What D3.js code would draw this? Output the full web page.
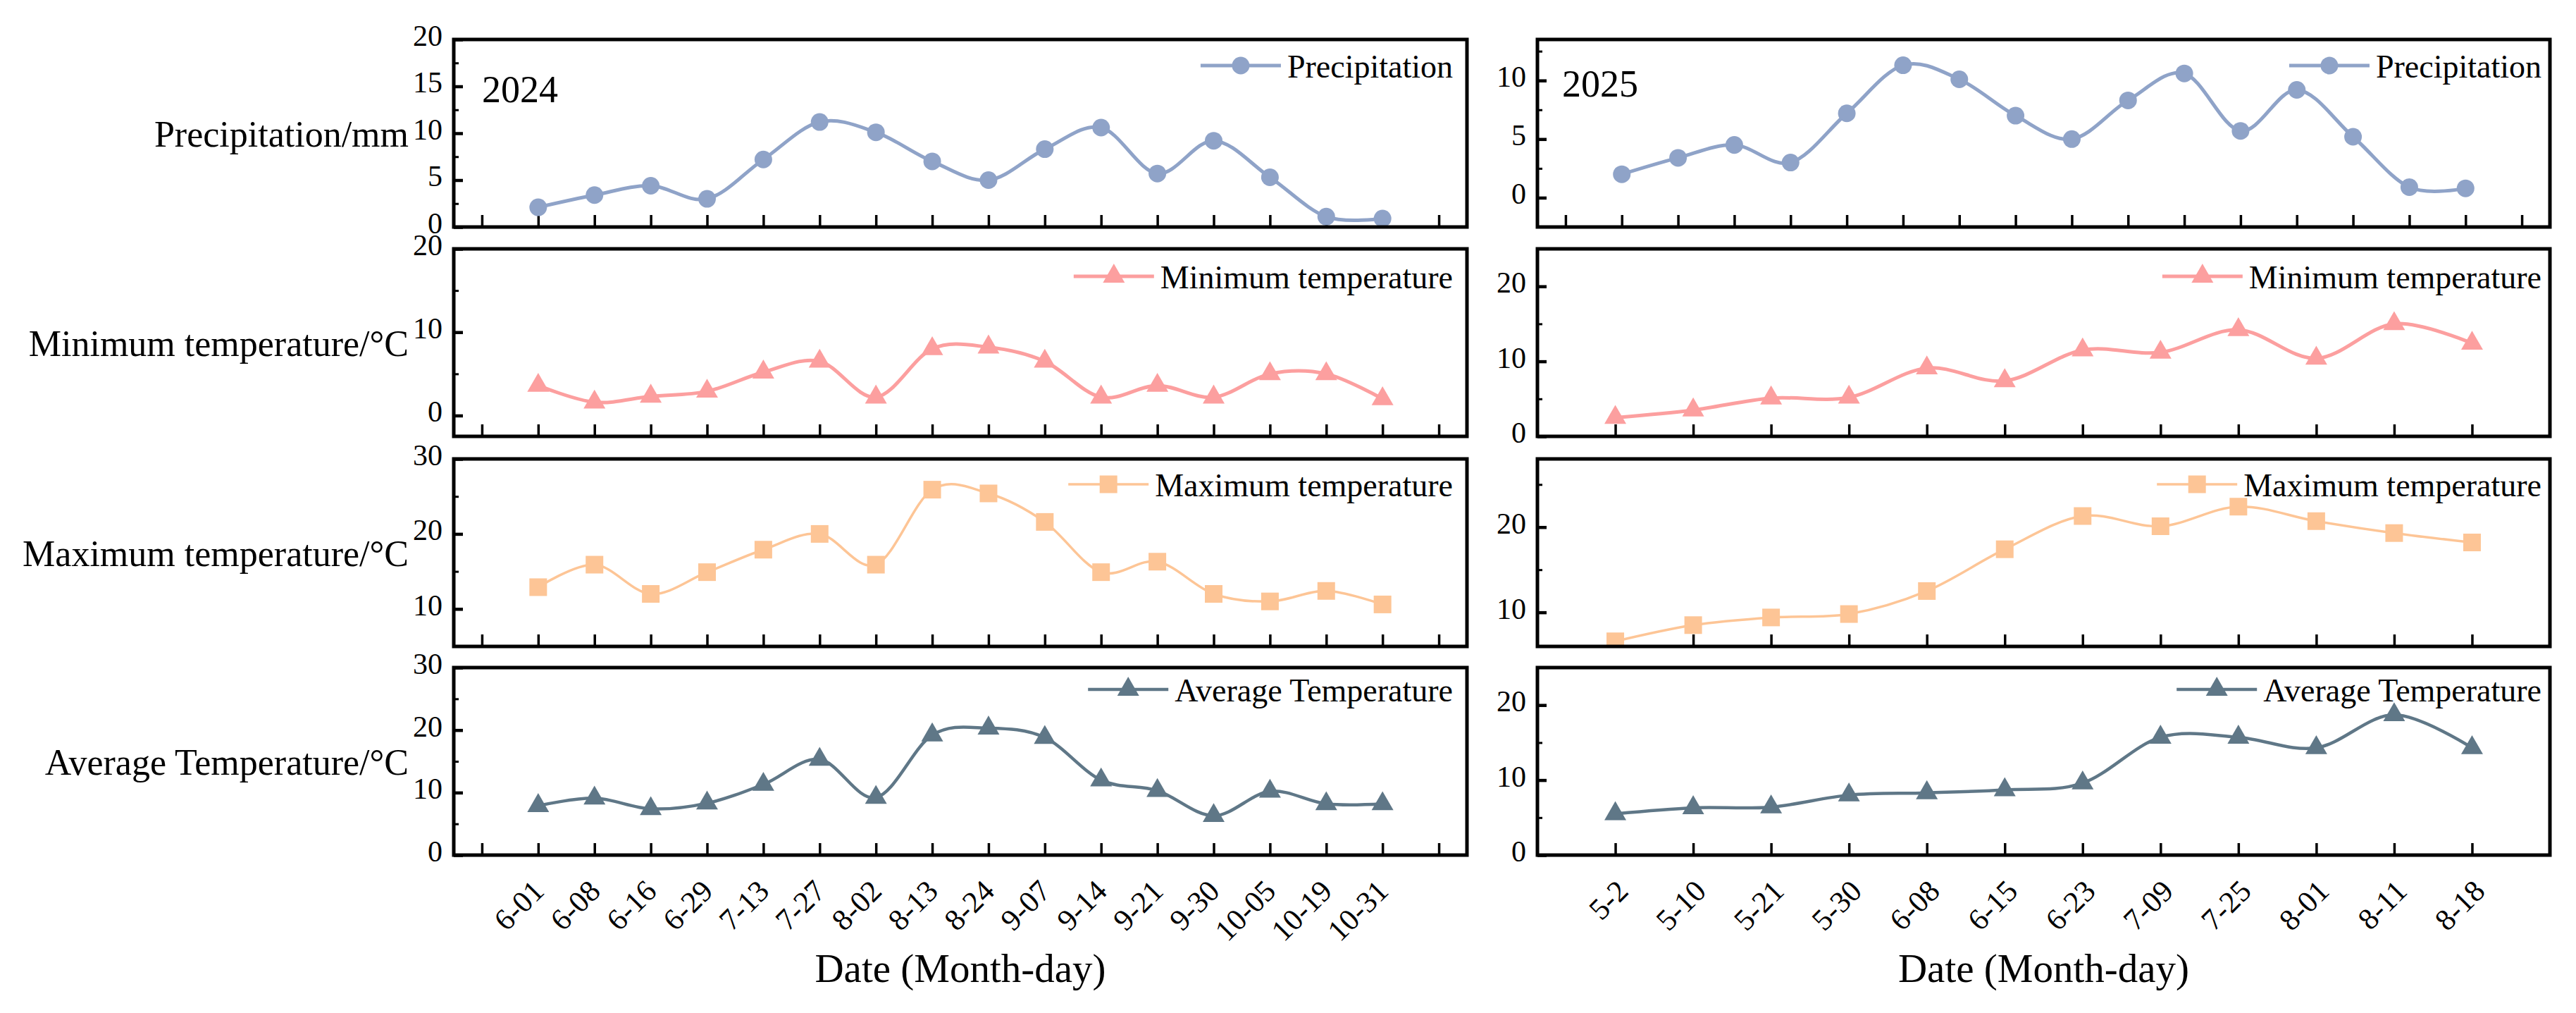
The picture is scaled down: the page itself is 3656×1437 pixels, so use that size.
<!DOCTYPE html>
<html>
<head>
<meta charset="utf-8">
<script src="https://cdn.jsdelivr.net/npm/d3@7"></script>
<style>
  body { margin: 0; background: #fff; }
  text { font-family: "Liberation Serif", "DejaVu Serif", serif; fill: #000; }
</style>
</head>
<body>
<svg id="chart"></svg>
<script>
// categories
var dates2024 = ['6-01', '6-08', '6-16', '6-29', '7-13', '7-27', '8-02', '8-13',
                 '8-24', '9-07', '9-14', '9-21', '9-30', '10-05', '10-19', '10-31'];
var dates2025 = ['5-2', '5-10', '5-21', '5-30', '6-08', '6-15', '6-23', '7-09',
                 '7-25', '8-01', '8-11', '8-18'];

// series values
var precip2024 = [2.1, 3.4, 4.4, 3.0, 7.2, 11.2, 10.1, 7.0, 5.0, 8.3, 10.6, 5.7, 9.2, 5.3, 1.1, 0.9];
var precip2025 = [2.0, 3.4, 4.5, 3.0, 7.2, 11.3, 10.1, 7.0, 5.0, 8.3, 10.6, 5.7, 9.2, 5.2, 0.9, 0.8];
var minT2024 = [3.6, 1.6, 2.3, 2.9, 5.2, 6.5, 2.2, 8.0, 8.2, 6.5, 2.2, 3.6, 2.2, 5.0, 5.0, 2.0];
var minT2025 = [2.5, 3.5, 5.1, 5.2, 9.1, 7.4, 11.5, 11.2, 14.2, 10.4, 15.0, 12.4];
var maxT2024 = [12.9, 15.9, 12.0, 14.9, 17.9, 20.0, 15.9, 25.9, 25.4, 21.6, 14.9, 16.3, 12.0, 11.0, 12.4, 10.6];
var maxT2025 = [6.6, 8.5, 9.4, 9.8, 12.5, 17.4, 21.3, 20.1, 22.4, 20.7, 19.3, 18.2];
var avgT2024 = [7.9, 9.1, 7.4, 8.3, 11.3, 15.3, 9.2, 19.2, 20.3, 18.8, 12.0, 10.3, 6.3, 10.2, 8.2, 8.2];
var avgT2025 = [5.5, 6.3, 6.4, 8.0, 8.3, 8.7, 9.6, 15.7, 15.7, 14.3, 18.7, 14.3];

// y tick labels (major) per panel
var precipTicks2024 = [0, 5, 10, 15, 20];
var precipTicks2025 = [0, 5, 10];
var minTicks2024 = [0, 10, 20];
var minTicks2025 = [0, 10, 20];
var maxTicks2024 = [10, 20, 30];
var maxTicks2025 = [10, 20];
var avgTicks2024 = [0, 10, 20, 30];
var avgTicks2025 = [0, 10, 20];

var W = 3656, H = 1437;
var svg = d3.select('#chart').attr('width', W).attr('height', H);

var cols = [
  { x0: 644, x1: 2082, year: '2024', yearX: 684, yearY: 145, labels: dates2024, labelDx: 0, legPad: 20 },
  { x0: 2182, x1: 3619, year: '2025', yearX: 2217, yearY: 137, labels: dates2025, labelDx: 10, legPad: 12 }
];
var rows = [
  { y0: 56, y1: 322 }, { y0: 353, y1: 619 }, { y0: 651, y1: 917 }, { y0: 947, y1: 1213 }
];

var styles = {
  precip: { name: 'Precipitation', title: 'Precipitation/mm', shape: d3.symbolCircle, size: 491, color: '#8fa3c8', lw: 5, legY: 37 },
  minT: { name: 'Minimum temperature', title: 'Minimum temperature/°C', shape: d3.symbolTriangle, size: 416, color: '#fc9f9f', lw: 5, legY: 39 },
  maxT: { name: 'Maximum temperature', title: 'Maximum temperature/°C', shape: d3.symbolSquare, size: 625, color: '#fdc596', lw: 3.5, legY: 36 },
  avgT: { name: 'Average Temperature', title: 'Average Temperature/°C', shape: d3.symbolTriangle, size: 416, color: '#5f7787', lw: 4.5, legY: 31 }
};

var panels = [
  { col: 0, row: 0, kind: 'precip', values: precip2024, domain: [0, 20], major: precipTicks2024, step: 2.5 },
  { col: 0, row: 1, kind: 'minT', values: minT2024, domain: [-2.5, 20], major: minTicks2024, step: 5 },
  { col: 0, row: 2, kind: 'maxT', values: maxT2024, domain: [5, 30], major: maxTicks2024, step: 5 },
  { col: 0, row: 3, kind: 'avgT', values: avgT2024, domain: [0, 30], major: avgTicks2024, step: 5 },
  { col: 1, row: 0, kind: 'precip', values: precip2025, domain: [-2.5, 13.5], major: precipTicks2025, step: 2.5 },
  { col: 1, row: 1, kind: 'minT', values: minT2025, domain: [0, 25], major: minTicks2025, step: 5 },
  { col: 1, row: 2, kind: 'maxT', values: maxT2025, domain: [6, 28], major: maxTicks2025, step: 5 },
  { col: 1, row: 3, kind: 'avgT', values: avgT2025, domain: [0, 25], major: avgTicks2025, step: 5 }
];

panels.forEach(function (p, pi) {
  var c = cols[p.col], r = rows[p.row], st = styles[p.kind];
  var n = p.values.length;
  // 16-point panels carry a padded tick at each end, 12-point ones do not
  var x = d3.scaleLinear()
    .domain(n > 12 ? [-1.5, n + 0.5] : [-1, n])
    .range([c.x0, c.x1]);
  var xTicks = n > 12 ? d3.range(-1, n + 1) : d3.range(0, n);
  var y = d3.scaleLinear().domain(p.domain).range([r.y1, r.y0]);

  var g = svg.append('g');

  // minor y ticks (every step, not on majors)
  var minor = d3.range(Math.ceil(p.domain[0] / p.step) * p.step, p.domain[1] + 0.001, p.step)
    .filter(function (v) { return p.major.indexOf(v) < 0 && v > p.domain[0] && v < p.domain[1]; });
  g.append('g')
    .attr('transform', 'translate(' + c.x0 + ',0)')
    .call(d3.axisLeft(y).tickValues(minor).tickSize(-7).tickFormat(''))
    .call(function (a) { a.select('.domain').remove(); a.selectAll('line').attr('stroke-width', 3); });

  // major y ticks with labels
  var ya = g.append('g')
    .attr('transform', 'translate(' + c.x0 + ',0)')
    .call(d3.axisLeft(y).tickValues(p.major).tickSize(-13).tickPadding(16).tickFormat(d3.format('d')));
  ya.select('.domain').remove();
  ya.selectAll('line').attr('stroke-width', 4.5);
  ya.attr('font-family', null).attr('font-size', 42);
  ya.selectAll('text').attr('dy', '0.2em').style('font-size', '42px');

  // x ticks (inside)
  g.append('g')
    .attr('transform', 'translate(0,' + r.y1 + ')')
    .call(d3.axisBottom(x).tickValues(xTicks).tickSize(-17).tickFormat(''))
    .call(function (a) { a.select('.domain').remove(); a.selectAll('line').attr('stroke-width', 3.5); });

  // clip for the data
  var clipId = 'clip' + pi;
  svg.append('clipPath').attr('id', clipId)
    .append('rect')
    .attr('x', c.x0).attr('y', r.y0)
    .attr('width', c.x1 - c.x0).attr('height', r.y1 - r.y0);

  var data = p.values.map(function (v, i) { return { i: i, v: v }; });
  var line = d3.line()
    .x(function (d) { return x(d.i); })
    .y(function (d) { return y(d.v); })
    .curve(d3.curveCardinal.tension(0));

  var plot = g.append('g').attr('clip-path', 'url(#' + clipId + ')');
  plot.append('path')
    .datum(data)
    .attr('d', line)
    .attr('fill', 'none')
    .attr('stroke', st.color)
    .attr('stroke-width', st.lw);

  plot.selectAll('.mark')
    .data(data)
    .enter()
    .append('path')
      .attr('class', 'mark')
      .attr('transform', function (d) { return 'translate(' + x(d.i) + ',' + y(d.v) + ')'; })
      .attr('d', d3.symbol().type(st.shape).size(st.size))
      .attr('fill', st.color);

  // frame
  g.append('rect')
    .attr('x', c.x0).attr('y', r.y0)
    .attr('width', c.x1 - c.x0).attr('height', r.y1 - r.y0)
    .attr('fill', 'none')
    .attr('stroke', '#000')
    .attr('stroke-width', 5);

  // legend
  var legText = g.append('text')
    .attr('x', c.x1 - c.legPad)
    .attr('y', r.y0 + st.legY + 17)
    .attr('text-anchor', 'end')
    .style('font-size', '46px')
    .text(st.name);
  var tStart = c.x1 - c.legPad - legText.node().getComputedTextLength();
  var lx1 = tStart - 9, lx0 = lx1 - 114;
  g.append('line')
    .attr('x1', lx0).attr('x2', lx1)
    .attr('y1', r.y0 + st.legY).attr('y2', r.y0 + st.legY)
    .attr('stroke', st.color)
    .attr('stroke-width', st.lw);
  g.append('path')
    .attr('transform', 'translate(' + ((lx0 + lx1) / 2) + ',' + (r.y0 + st.legY) + ')')
    .attr('d', d3.symbol().type(st.shape).size(st.size))
    .attr('fill', st.color);

  // y title (left column only)
  if (p.col === 0) {
    svg.append('text')
      .attr('x', 580)
      .attr('y', (r.y0 + r.y1) / 2 + 19)
      .attr('text-anchor', 'end')
      .style('font-size', '52px')
      .text(st.title);
  }

  // bottom row: rotated date labels + x title
  if (p.row === 3) {
    c.labels.forEach(function (lab, i) {
      svg.append('text')
        .attr('transform', 'translate(' + (x(i) + c.labelDx) + ',1256) rotate(-45)')
        .attr('text-anchor', 'end')
        .attr('dy', '0.35em')
        .style('font-size', '43px')
        .text(lab);
    });
    svg.append('text')
      .attr('x', (c.x0 + c.x1) / 2)
      .attr('y', 1393)
      .attr('text-anchor', 'middle')
      .style('font-size', '57px')
      .text('Date (Month-day)');
  }
});

// year labels
cols.forEach(function (c) {
  svg.append('text')
    .attr('x', c.yearX)
    .attr('y', c.yearY)
    .style('font-size', '54px')
    .text(c.year);
});
</script>
</body>
</html>
